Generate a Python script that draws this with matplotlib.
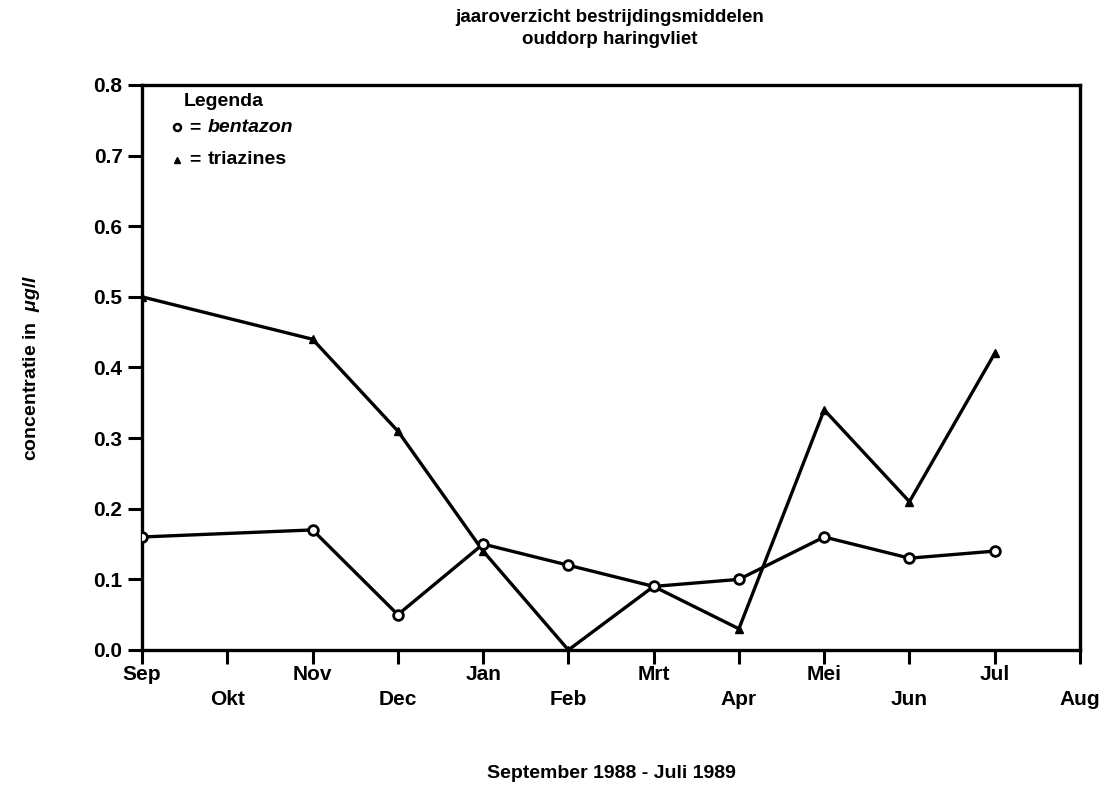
import matplotlib
matplotlib.use('Agg')
import matplotlib.pyplot as plt

plt.rcParams.update({
    'font.family': ['Liberation Sans', 'DejaVu Sans'],
    'font.weight': 'bold',
    'axes.labelweight': 'bold',
    'font.size': 13,
    'mathtext.fontset': 'custom',
    'mathtext.it': 'Liberation Sans:italic:bold',
    'mathtext.rm': 'Liberation Sans:bold',
})

# month axis: Sep 1988 .. Aug 1989
months = ['Sep', 'Okt', 'Nov', 'Dec', 'Jan', 'Feb', 'Mrt', 'Apr', 'Mei', 'Jun', 'Jul', 'Aug']
# sample months (index into months)
sample_idx = [0, 2, 3, 4, 5, 6, 7, 8, 9, 10]
bentazon = [0.16, 0.17, 0.05, 0.15, 0.12, 0.09, 0.10, 0.16, 0.13, 0.14]
triazines = [0.50, 0.44, 0.31, 0.14, 0.00, 0.09, 0.03, 0.34, 0.21, 0.42]
yticks = [0.0, 0.1, 0.2, 0.3, 0.4, 0.5, 0.6, 0.7, 0.8]

fig = plt.figure(figsize=(11.07, 7.87), dpi=100)
ax = fig.add_axes([0.1283, 0.1741, 0.8473, 0.7179])

ax.plot(sample_idx, triazines, color='black', lw=2.4, marker='^', ms=6,
        mfc='black', mec='black', zorder=3)
ax.plot(sample_idx, bentazon, color='black', lw=2.4, marker='o', ms=7,
        mfc='white', mec='black', mew=2, zorder=4)

ax.set_xlim(0, len(months) - 1)
ax.set_ylim(0, 0.8)
ax.set_yticks(yticks)
ax.set_yticklabels([f'{v:.1f}' for v in yticks], fontsize=15)
ax.set_xticks(range(len(months)))
ax.set_xticklabels([m if i % 2 == 0 else '\n' + m for i, m in enumerate(months)],
                   fontsize=15, linespacing=1.4)
ax.tick_params(direction='out', length=10, width=2.2)
ax.tick_params(axis='y', pad=4)
ax.tick_params(axis='x', pad=1)
for s in ax.spines.values():
    s.set_linewidth(2.4)

ax.set_xlabel('September 1988 - Juli 1989', fontsize=14, labelpad=40)
ax.set_ylabel(r'concentratie in  $\mu g$/$l$', fontsize=14, labelpad=37)

fig.text(0.551, 0.988, 'jaaroverzicht bestrijdingsmiddelen', ha='center', va='top', fontsize=13.5)
fig.text(0.551, 0.960, 'ouddorp haringvliet', ha='center', va='top', fontsize=13.5)

# legend drawn as text, like the original
ax.text(0.045, 0.985, 'Legenda', transform=ax.transAxes, va='top', fontsize=14)
ax.plot([0.037], [0.925], transform=ax.transAxes, marker='o', ms=5, mfc='white',
        mec='black', mew=1.8, color='black', clip_on=False)
ax.text(0.05, 0.925, '=', transform=ax.transAxes, va='center', fontsize=14)
ax.text(0.07, 0.925, 'bentazon', transform=ax.transAxes, va='center', fontsize=14, style='italic')
ax.plot([0.037], [0.868], transform=ax.transAxes, marker='^', ms=5, color='black', clip_on=False)
ax.text(0.05, 0.868, '=', transform=ax.transAxes, va='center', fontsize=14)
ax.text(0.07, 0.868, 'triazines', transform=ax.transAxes, va='center', fontsize=14)

fig.savefig('out.png', dpi=100)
